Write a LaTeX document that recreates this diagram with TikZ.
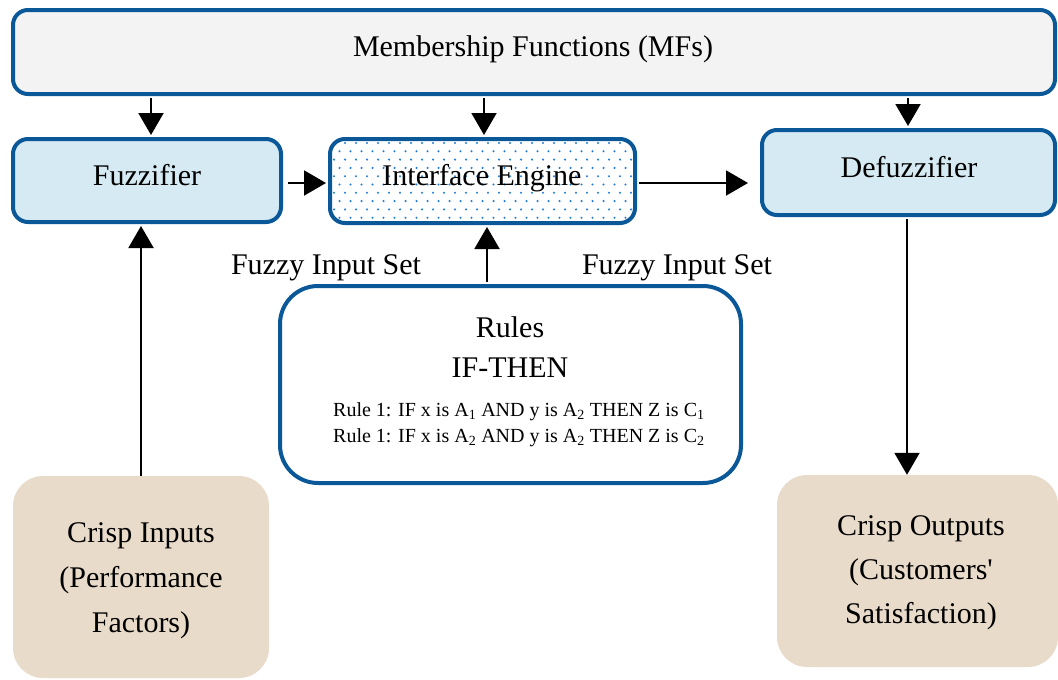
\documentclass[tikz,border=0pt]{standalone}
\usepackage{fontspec}
\setmainfont{Liberation Serif}
\usetikzlibrary{arrows.meta}
\definecolor{edgeblue}{RGB}{11,88,152}
\definecolor{mfgray}{RGB}{243,243,243}
\definecolor{stageblue}{RGB}{214,234,243}
\definecolor{crisptan}{RGB}{232,219,202}
\definecolor{dotblue}{RGB}{35,125,215}
\tikzset{
  box/.style={draw=edgeblue, line width=4pt, rounded corners=15pt, inner sep=0pt},
  stagebox/.style={box, fill=stageblue},
  crispbox/.style={fill=crisptan, rounded corners=30pt, inner sep=0pt},
  txt/.style={font=\fontsize{30}{34}\selectfont, inner sep=0pt, anchor=base},
  ruletxt/.style={font=\fontsize{20}{24}\selectfont, inner sep=0pt, anchor=base west},
  link/.style={line width=2pt, -{Triangle[width=25pt,length=22pt]}},
  dotted fill/.style={path picture={
    \foreach \r in {0,...,11}{\foreach \c in {0,...,29}{
      \fill[dotblue] ([xshift={\c*11pt+mod(\r,2)*5.5pt+4pt}, yshift={-\r*8.3pt-4pt}]path picture bounding box.north west) circle (1.15pt);
    }}}}
}
\begin{document}
\begin{tikzpicture}[x=1pt,y=-1pt]
\useasboundingbox (0,0) rectangle (1058,680);

% blocks
\node[box, fill=mfgray, minimum width=1042pt, minimum height=84pt] (mf) at (534,52) {};
\node[stagebox, minimum width=268pt, minimum height=83pt] (fuzz) at (147,180.5) {};
\node[box, fill=white, dotted fill, minimum width=305pt, minimum height=84pt] (ie) at (482.5,181) {};
\node[stagebox, minimum width=293pt, minimum height=85pt] (defuzz) at (908.5,172.5) {};
\node[box, fill=white, rounded corners=38pt, minimum width=461pt, minimum height=197pt] (rules) at (510.5,384.5) {};
\node[crispbox, minimum width=256pt, minimum height=202pt] (cin) at (141,577) {};
\node[crispbox, minimum width=281pt, minimum height=192pt] (cout) at (917.5,571) {};

% texts
\node[txt] (mfT) at (533,56) {Membership Functions (MFs)};
\node[txt] (fuzzT) at (147,185) {Fuzzifier};
\node[txt] (ieT) at (482,185) {Interface Engine};
\node[txt] (defuzzT) at (909,177) {Defuzzifier};
\node[txt] (setL) at (326,274) {Fuzzy Input Set};
\node[txt] (setR) at (677,274) {Fuzzy Input Set};
\node[txt] (rulesT) at (510,337) {Rules};
\node[txt] (ifT) at (510,377) {IF-THEN};
\node[ruletxt] (r1) at (333,416) {Rule 1: IF x is A\textsubscript{1} AND y is A\textsubscript{2} THEN Z is C\textsubscript{1}};
\node[ruletxt] (r2) at (333,442) {Rule 1: IF x is A\textsubscript{2} AND y is A\textsubscript{2} THEN Z is C\textsubscript{2}};
\node[txt] (cin1) at (141,542) {Crisp Inputs};
\node[txt] (cin2) at (141,587) {(Performance};
\node[txt] (cin3) at (141,632) {Factors)};
\node[txt] (cout1) at (921,535) {Crisp Outputs};
\node[txt] (cout2) at (921,579) {\addfontfeatures{Ligatures=TeXOff}(Customers'};
\node[txt] (cout3) at (921,623) {Satisfaction)};

% connector guides
\coordinate (xa) at (151,0);
\coordinate (xb) at (484,0);
\coordinate (xc) at (908,0);
\coordinate (xd) at (487,0);
\coordinate (xe) at (141,0);
\coordinate (xf) at (907,0);
\coordinate (yh) at (0,183);

% connectors
\draw[link, shorten <=2pt, shorten >=2pt] (xa |- mf.south) -- (xa |- fuzz.north);
\draw[link, shorten <=2pt, shorten >=2pt] (xb |- mf.south) -- (xb |- ie.north);
\draw[link, shorten <=2pt, shorten >=2pt] (xc |- mf.south) -- (xc |- defuzz.north);
\draw[link, shorten <=5pt, shorten >=2pt] (fuzz.east |- yh) -- (ie.west |- yh);
\draw[link, shorten <=2pt, shorten >=12pt] (ie.east |- yh) -- (defuzz.west |- yh);
\draw[link, shorten <=2pt, shorten >=2pt] (xd |- rules.north) -- (xd |- ie.south);
\draw[link, shorten >=2pt] (xe |- cin.north) -- (xe |- fuzz.south);
\draw[link, shorten <=2pt] (xf |- defuzz.south) -- (xf |- cout.north);
\end{tikzpicture}
\end{document}
